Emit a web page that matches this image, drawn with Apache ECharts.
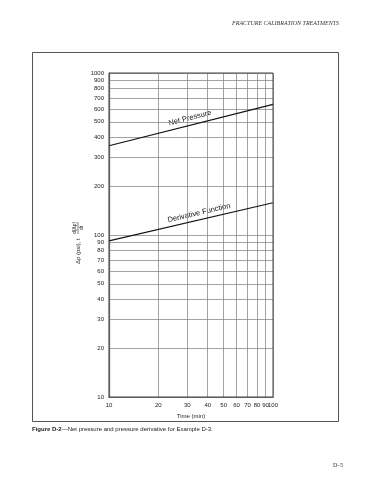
<!DOCTYPE html>
<html>
<head>
<meta charset="utf-8">
<script src="https://cdn.jsdelivr.net/npm/echarts@6/dist/echarts.min.js"></script>
<style>
html,body{margin:0;padding:0;background:#fff;}
#c{width:370px;height:480px;}
</style>
</head>
<body>
<div id="c"></div>
<script>
// ---- data (log-log plot) ----
var timeMin = [10, 100];
var netPressure = [356, 640];
var derivativeFn = [92, 158];
var xGridVals = [10, 20, 30, 40, 50, 60, 70, 80, 90, 100];
var yGridVals = [10, 20, 30, 40, 50, 60, 70, 80, 90, 100, 200, 300, 400, 500, 600, 700, 800, 900, 1000];

var FONT = 'Liberation Sans, Arial, sans-serif';
var chart = echarts.init(document.getElementById('c'), null, {renderer: 'canvas'});

function pairs(xs, ys) { return xs.map(function (x, i) { return [x, ys[i]]; }); }

var gridLineStyle = {color: '#8a8a8a', width: 0.8, type: 'solid'};

var option = {
  animation: false,
  backgroundColor: '#fff',
  grid: {left: 109, right: 97, top: 73, bottom: 83, containLabel: false},
  xAxis: {
    type: 'log', logBase: 10, min: 10, max: 100,
    name: 'Time (min)', nameLocation: 'middle', nameGap: 16,
    nameTextStyle: {fontFamily: FONT, fontSize: 6, color: '#222'},
    axisLine: {show: true, lineStyle: {color: '#222', width: 1.2}},
    axisTick: {show: false}, axisLabel: {show: false}, splitLine: {show: false}
  },
  yAxis: {
    type: 'log', logBase: 10, min: 10, max: 1000,
    axisLine: {show: true, lineStyle: {color: '#222', width: 1.2}},
    axisTick: {show: false}, axisLabel: {show: false}, splitLine: {show: false}
  },
  series: [
    {
      type: 'line', name: 'grid-x', data: [], silent: true,
      markLine: {
        silent: true, symbol: 'none', animation: false,
        lineStyle: gridLineStyle,
        label: {show: true, position: 'start', formatter: function (p) { return p.value; },
                fontFamily: FONT, fontSize: 6, color: '#222', distance: 5},
        data: xGridVals.map(function (v) { return {xAxis: v}; })
      }
    },
    {
      type: 'line', name: 'grid-y', data: [], silent: true,
      markLine: {
        silent: true, symbol: 'none', animation: false,
        lineStyle: gridLineStyle,
        label: {show: true, position: 'start', formatter: function (p) { return p.value; },
                fontFamily: FONT, fontSize: 6, color: '#222', distance: 5},
        data: yGridVals.map(function (v) { return {yAxis: v}; })
      }
    },
    {
      type: 'line', name: 'Net Pressure', data: pairs(timeMin, netPressure),
      symbol: 'none', lineStyle: {color: '#111', width: 1.1}, z: 5
    },
    {
      type: 'line', name: 'Derivative Function', data: pairs(timeMin, derivativeFn),
      symbol: 'none', lineStyle: {color: '#111', width: 1.1}, z: 5
    }
  ],
  graphic: [
    {type: 'rect', shape: {x: 109, y: 73, width: 164, height: 324},
     style: {fill: 'none', stroke: '#444', lineWidth: 1}, z: 10, silent: true},
    {type: 'rect', shape: {x: 32.5, y: 52.5, width: 306, height: 369},
     style: {fill: 'none', stroke: '#555', lineWidth: 1}, silent: true},
    {type: 'text', right: 31, top: 20,
     style: {text: 'FRACTURE CALIBRATION TREATMENTS', font: 'italic 6px "Liberation Serif", serif', fill: '#333'}},
    {type: 'text', x: 333, y: 462,
     style: {text: 'D–5', font: '6px "Liberation Serif", serif', fill: '#333'}},
    {type: 'text', x: 32, y: 426,
     style: {text: '{b|Figure D-2}—Net pressure and pressure derivative for Example D-3.',
             font: '6px "Liberation Sans", Arial, sans-serif', fill: '#222',
             rich: {b: {fontWeight: 'bold', fontSize: 6, fontFamily: FONT}}}},
    {type: 'text', x: 190, y: 118, rotation: 0.25,
     style: {text: 'Net Pressure', font: '7.5px "Liberation Sans", Arial, sans-serif', fill: '#111',
             align: 'center', verticalAlign: 'middle'}},
    {type: 'text', x: 199, y: 213, rotation: 0.23,
     style: {text: 'Derivative Function', font: '7.5px "Liberation Sans", Arial, sans-serif', fill: '#111',
             align: 'center', verticalAlign: 'middle'}},
    {type: 'group', x: 78, y: 240, rotation: Math.PI / 2, children: [
      {type: 'text', x: -24, y: 0,
       style: {text: 'Δp (psi), t', font: '6px "Liberation Sans", Arial, sans-serif', fill: '#222',
               align: 'left', verticalAlign: 'middle'}},
      {type: 'text', x: 12, y: -3.5,
       style: {text: 'd(Δp)', font: '5px "Liberation Sans", Arial, sans-serif', fill: '#222',
               align: 'center', verticalAlign: 'middle'}},
      {type: 'line', shape: {x1: 6, y1: 0, x2: 18, y2: 0}, style: {stroke: '#222', lineWidth: 0.6}},
      {type: 'text', x: 12, y: 3.5,
       style: {text: 'dt', font: '5px "Liberation Sans", Arial, sans-serif', fill: '#222',
               align: 'center', verticalAlign: 'middle'}}
    ]}
  ]
};
chart.setOption(option);
</script>
</body>
</html>
